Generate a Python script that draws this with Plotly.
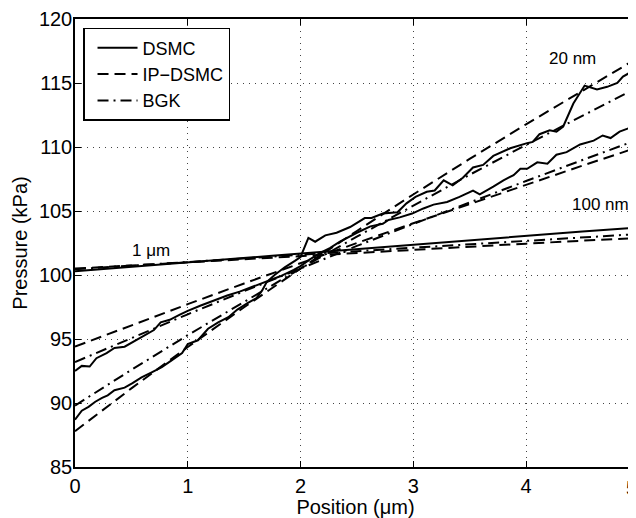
import plotly.graph_objects as go

# ---------------- data ----------------
# smooth model curves sampled every 0.5 µm
x_model = [0, 0.5, 1, 1.5, 2, 2.5, 3, 3.5, 4, 4.5, 5]

ip_20nm = [87.8, 91.14, 94.37, 97.48, 100.50, 103.44, 106.29, 109.07, 111.77, 114.42, 117.0]
bgk_20nm = [89.8, 92.59, 95.30, 97.93, 100.50, 103.00, 105.44, 107.83, 110.16, 112.45, 114.70]

ip_100nm = [94.4, 96.07, 97.72, 99.34, 100.93, 102.50, 104.04, 105.56, 107.06, 108.54, 110.0]
bgk_100nm = [93.2, 95.08, 96.93, 98.74, 100.52, 102.27, 103.99, 105.68, 107.34, 108.98, 110.6]

ip_1um = [100.5, 100.75, 101.0, 101.25, 101.5, 101.74, 101.98, 102.22, 102.45, 102.68, 102.9]
bgk_1um = [100.45, 100.74, 101.02, 101.3, 101.58, 101.86, 102.13, 102.4, 102.67, 102.94, 103.2]
dsmc_1um = [100.3, 100.65, 101.0, 101.35, 101.7, 102.05, 102.4, 102.75, 103.1, 103.4, 103.7]

# noisy DSMC results
dsmc_20nm_x = [0, 0.06, 0.12, 0.18, 0.24, 0.29, 0.35, 0.44, 0.51, 0.59, 0.68, 0.77, 0.86, 0.95,
               1.0, 1.09, 1.18, 1.27, 1.36, 1.44, 1.53, 1.61, 1.66, 1.70, 1.77, 1.86, 1.95,
               2.0, 2.07, 2.13, 2.22, 2.32, 2.44, 2.57, 2.63, 2.73, 2.86, 2.94, 3.02, 3.12,
               3.19, 3.27, 3.35, 3.44, 3.53, 3.62, 3.71, 3.86, 4.01, 4.06, 4.12, 4.21, 4.27,
               4.33, 4.42, 4.52, 4.63, 4.72, 4.81, 4.86, 4.92, 5.0]
dsmc_20nm = [88.7, 89.4, 89.7, 90.1, 90.4, 90.6, 91.0, 91.2, 91.55, 92.0, 92.4, 92.8, 93.35, 93.9,
             94.6, 94.9, 95.8, 96.3, 96.7, 97.3, 97.8, 98.2, 98.8, 99.45, 100.0, 100.6, 101.1,
             101.4, 102.9, 102.6, 103.1, 103.3, 103.75, 104.45, 104.45, 104.8, 104.9, 105.6, 106.1, 106.5,
             106.6, 107.4, 107.0, 107.6, 108.4, 108.6, 109.3, 109.9, 110.3, 110.4, 111.0, 111.3, 111.2,
             111.6, 113.4, 114.8, 114.5, 114.7, 115.0, 115.5, 115.8, 116.1]

dsmc_100nm_x = [0, 0.06, 0.13, 0.19, 0.28, 0.35, 0.44, 0.52, 0.61, 0.70, 0.76, 0.84, 0.93, 1.0,
                1.11, 1.23, 1.35, 1.46, 1.58, 1.70, 1.82, 1.94, 2.0, 2.08, 2.17, 2.26, 2.35,
                2.5, 2.62, 2.73, 2.78, 2.88, 2.99, 3.09, 3.18, 3.3, 3.41, 3.53, 3.59, 3.71,
                3.8, 3.89, 3.95, 4.01, 4.1, 4.19, 4.27, 4.36, 4.48, 4.6, 4.68, 4.75, 4.83,
                4.92, 5.0]
dsmc_100nm = [92.5, 92.9, 92.85, 93.5, 93.9, 94.3, 94.4, 94.8, 95.3, 95.7, 96.3, 96.5, 96.9, 97.2,
              97.6, 98.0, 98.4, 98.7, 99.1, 99.5, 99.9, 100.4, 100.7, 101.2, 101.7, 102.1, 102.6,
              103.3, 103.8, 104.0, 104.3, 104.5, 104.8, 105.2, 105.5, 105.7, 106.1, 106.6, 106.3, 106.9,
              107.4, 107.8, 108.3, 108.3, 108.8, 108.7, 109.4, 109.6, 110.2, 110.5, 110.9, 110.7, 111.2,
              111.5, 111.8]

series_names = ["DSMC", "IP\u2212DSMC", "BGK"]
x_ticks = [0, 1, 2, 3, 4]
y_ticks = [85, 90, 95, 100, 105, 110, 115, 120]
case_labels = ["20 nm", "100 nm", "1 \u03bcm"]

# ---------------- figure ----------------
FONT = "Liberation Sans, Arial, Helvetica, sans-serif"
DASH = "11px,6px"
DASHDOT = "11px,5px,2px,5px"

fig = go.Figure()

def add(x, y, dash, name, show):
    fig.add_trace(go.Scatter(
        x=x, y=y, mode="lines", name=name, legendgroup=name, showlegend=show,
        line=dict(color="black", width=2, dash=dash), hoverinfo="skip"))

add(dsmc_20nm_x, dsmc_20nm, "solid", series_names[0], True)
add(x_model, ip_20nm, DASH, series_names[1], True)
add(x_model, bgk_20nm, DASHDOT, series_names[2], True)

add(dsmc_100nm_x, dsmc_100nm, "solid", series_names[0], False)
add(x_model, ip_100nm, DASH, series_names[1], False)
add(x_model, bgk_100nm, DASHDOT, series_names[2], False)

add(x_model, dsmc_1um, "solid", series_names[0], False)
add(x_model, ip_1um, DASH, series_names[1], False)
add(x_model, bgk_1um, DASHDOT, series_names[2], False)

# the page body has an 8px margin, so the figure is sized to end at the window edge
W, H = 628, 510
ML, MR, MT, MB = 67, 0, 11, 51
px_per_unit = 112.75
x_max = (W - ML - MR) / px_per_unit

annotations = [
    dict(x=4.41, y=116.9, text=case_labels[0], xref="x", yref="y", showarrow=False,
         font=dict(size=17, color="black", family=FONT)),
    dict(x=4.66, y=105.5, text=case_labels[1], xref="x", yref="y", showarrow=False,
         font=dict(size=17, color="black", family=FONT)),
    dict(x=0.67, y=101.9, text=case_labels[2], xref="x", yref="y", showarrow=False,
         font=dict(size=17, color="black", family=FONT)),
    # tick label "5" that sits at the clipped right edge of the axis
    dict(x=5 / x_max, y=0, xref="paper", yref="paper", text="5", showarrow=False,
         yanchor="top", yshift=-8, font=dict(size=20, color="black", family=FONT)),
]

fig.update_layout(
    width=W, height=H,
    margin=dict(l=ML, r=MR, t=MT, b=MB, pad=0),
    paper_bgcolor="white", plot_bgcolor="white",
    font=dict(family=FONT, size=20, color="black"),
    showlegend=True,
    legend=dict(x=0.0143, y=0.98, xanchor="left", yanchor="top",
                bgcolor="white", bordercolor="black", borderwidth=1.5,
                font=dict(size=18, family=FONT, color="black"),
                tracegroupgap=0, itemwidth=40, indentation=8),
    annotations=annotations,
    xaxis=dict(range=[0, x_max], tickvals=x_ticks, showgrid=True, gridcolor="#444",
               griddash="1px,5px", gridwidth=1, zeroline=False,
               showline=True, linecolor="black", linewidth=1.5, mirror="ticks",
               ticks="inside", ticklen=6, tickcolor="black", tickwidth=1,
               tickfont=dict(size=20, family=FONT),
               title=dict(text="Position (\u03bcm)", font=dict(size=20, family=FONT), standoff=2)),
    yaxis=dict(range=[85, 120], tickvals=y_ticks, showgrid=True, gridcolor="#444",
               griddash="1px,5px", gridwidth=1, zeroline=False,
               showline=True, linecolor="black", linewidth=1.5, mirror=False,
               ticks="inside", ticklen=6, tickcolor="black", tickwidth=1,
               ticklabelstandoff=-3,
               tickfont=dict(size=20, family=FONT),
               title=dict(text="Pressure (kPa)", font=dict(size=20, family=FONT), standoff=6)),
)

fig.write_html("out.html")
